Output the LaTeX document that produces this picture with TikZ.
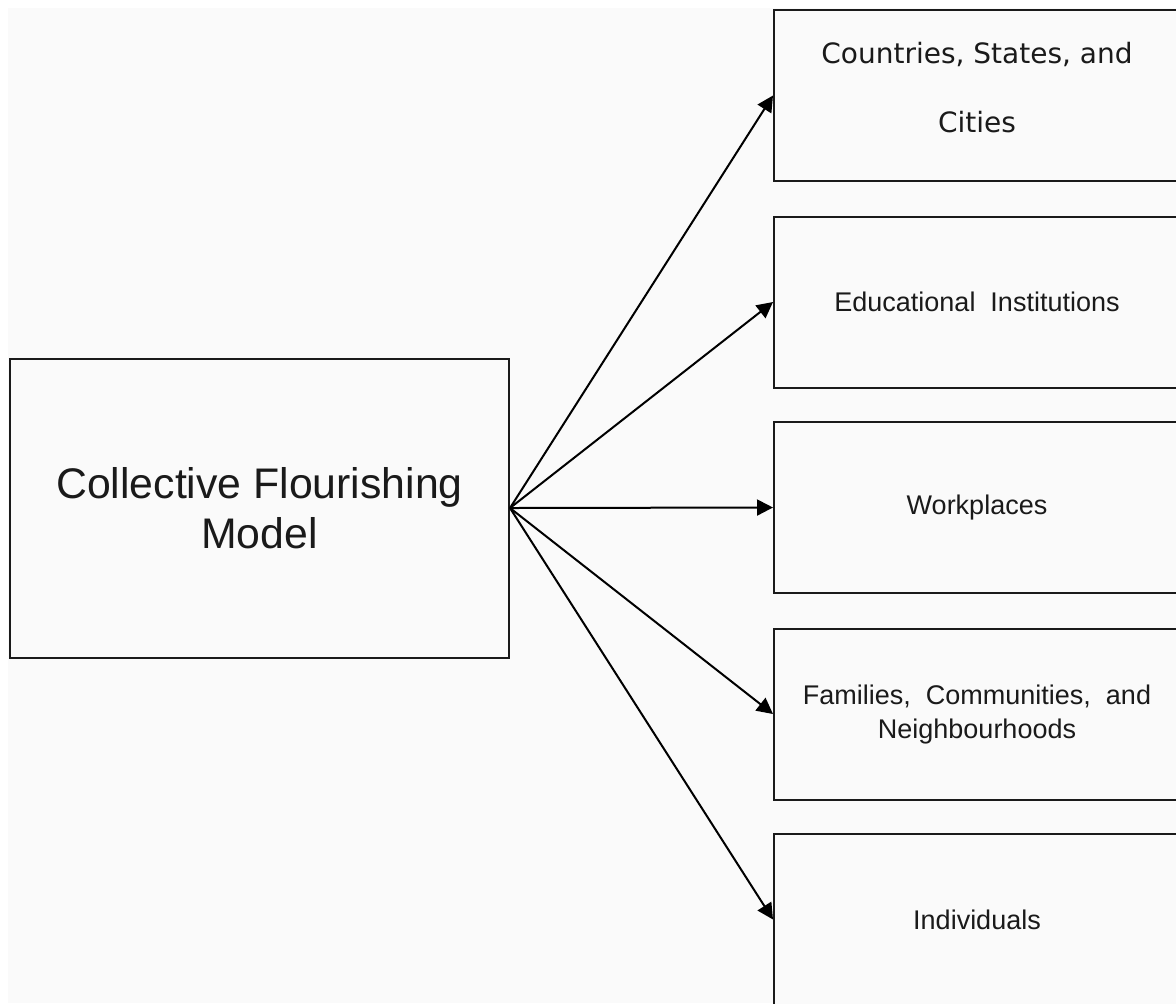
\documentclass[tikz,border=0pt]{standalone}
\usepackage{fontspec}
\setmainfont{Liberation Sans}
\newfontfamily\vfont{DejaVu Sans}
\usetikzlibrary{arrows.meta}
\definecolor{bg}{HTML}{FAFAFA}
\definecolor{ink}{HTML}{1A1A1A}
\begin{document}
\begin{tikzpicture}[x=0.5pt,y=-0.5pt,
    box/.style={draw=ink,line width=1pt,fill=bg,text=ink,align=center,inner sep=0pt},
    lvl/.style={box,minimum width=203pt,minimum height=85.5pt,font=\fontsize{13.5}{17}\selectfont},
    link/.style={line width=1pt,-{Triangle[length=8pt,width=8pt]}}]
      \useasboundingbox (0,0) rectangle (1176,1003);
      \clip (0,0) rectangle (1176,1003);
      \fill[bg] (8,8) rectangle (1176,1003);
      \node[box,minimum width=249.5pt,minimum height=149.5pt,font=\fontsize{21.4}{25}\selectfont] (m) at (259.5,508) {Collective Flourishing\\Model};
      \node[lvl,font=\vfont\fontsize{14}{34.5}\selectfont] (m1) at (977,95.5) {Countries, States, and\\Cities\\[-26.5pt]\mbox{}};
      \node[lvl] (m2) at (977,302) {Educational\ \ Institutions};
      \node[lvl] (m3) at (977,507.5) {Workplaces};
      \node[lvl] (m4) at (977,714) {Families,\ \ Communities,\ \ and\\Neighbourhoods};
      \node[lvl] (m5) at (977,919.5) {Individuals};
      \draw[link] (m.east) -- (m1.west);
      \draw[link] (m.east) -- (m2.west);
      \draw[link] (m.east) -- (m3.west);
      \draw[link] (m.east) -- (m4.west);
      \draw[link] (m.east) -- (m5.west);
    \end{tikzpicture}
\end{document}
